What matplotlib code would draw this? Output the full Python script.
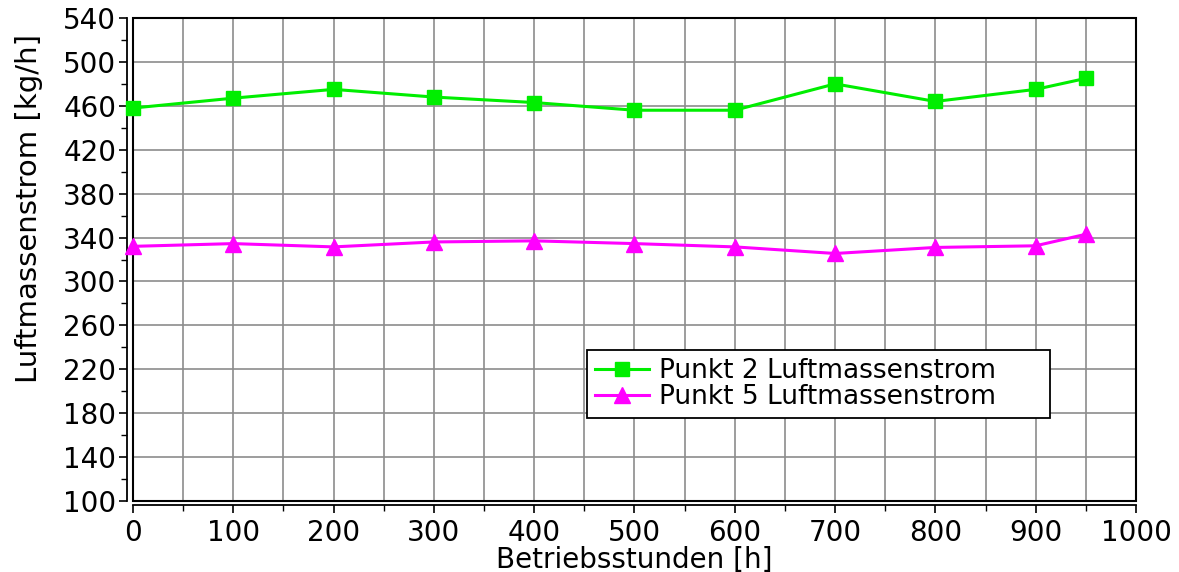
import matplotlib.pyplot as plt
from matplotlib.patches import Rectangle
from matplotlib.ticker import MultipleLocator

hours = [0, 100, 200, 300, 400, 500, 600, 700, 800, 900, 950]
punkt2 = [458, 467, 475, 468, 463, 456, 456, 480, 464, 475, 485]
punkt5 = [332, 334.5, 331.5, 336, 337, 334.5, 331.5, 325.5, 331, 332.5, 343]

plt.rcParams["font.family"] = ["DejaVu Sans"]

fig = plt.figure(figsize=(11.79, 5.72), dpi=100)
ax = fig.add_axes([0.1128, 0.1241, 0.8507, 0.8444])

ax.plot(hours, punkt2, color="#00ee00", lw=2.2, marker="s", ms=10,
        label="Punkt 2 Luftmassenstrom", clip_on=False, zorder=3)
ax.plot(hours, punkt5, color="#ff00ff", lw=2.2, marker="^", ms=11,
        label="Punkt 5 Luftmassenstrom", clip_on=False, zorder=3)

ax.set_xlim(0, 1000)
ax.set_ylim(100, 540)
ax.xaxis.set_major_locator(MultipleLocator(100))
ax.xaxis.set_minor_locator(MultipleLocator(50))
ax.yaxis.set_major_locator(MultipleLocator(40, offset=20))
ax.yaxis.set_minor_locator(MultipleLocator(20))

ax.grid(True, which="major", color="#8c8c8c", lw=1.2)
ax.grid(True, which="minor", axis="x", color="#8c8c8c", lw=1.2)
ax.set_axisbelow(True)

ax.spines["left"].set_position(("outward", 4))
ax.spines["bottom"].set_position(("outward", 3))
ax.spines["top"].set_visible(False)
ax.spines["right"].set_visible(False)
for s in ("left", "bottom"):
    ax.spines[s].set_linewidth(1.3)
ax.add_patch(Rectangle((0, 0), 1, 1, transform=ax.transAxes, fill=False,
                       ec="black", lw=1.5, zorder=2.5, clip_on=False))

ax.tick_params(which="major", length=6, width=1.2, labelsize=20)
ax.tick_params(which="minor", length=4, width=1.0)
ax.tick_params(axis="y", pad=2)
ax.tick_params(axis="x", pad=4)

ax.set_xlabel("Betriebsstunden [h]", fontsize=20, labelpad=-1)
ax.set_ylabel("Luftmassenstrom [kg/h]", fontsize=21, va="center")
ax.yaxis.set_label_coords(-0.104, 0.605)

# legend box spans roughly x 587..1050 px in the reference
leg = ax.legend(loc="upper left", bbox_to_anchor=(0.4526, 0.1718, 0.4616, 0.1408),
                mode="expand", fontsize=19,
                frameon=True, fancybox=False, edgecolor="black",
                framealpha=1, borderpad=0.3, labelspacing=0.0,
                handlelength=2.05, handletextpad=0.38, borderaxespad=0)
leg.get_frame().set_linewidth(1.3)

fig.savefig("out.png", dpi=100)
